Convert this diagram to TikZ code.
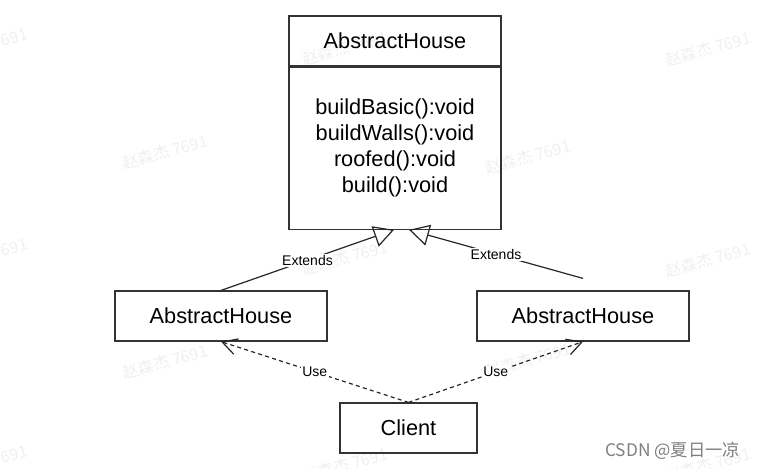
\documentclass[tikz,border=0pt]{standalone}
\usepackage{fontspec}
\setmainfont{Liberation Sans}
\newfontfamily\cjkfont{Noto Sans CJK SC}
\usetikzlibrary{arrows.meta,calc}

\begin{document}
\begin{tikzpicture}[x=0.75pt,y=-0.75pt,
  box/.style={draw=black!80,line width=0.9pt,rectangle,minimum width=159pt,minimum height=37.5pt,inner sep=0pt,font=\fontsize{16.3}{19.5}\selectfont},
  extends/.style={draw=black!85,line width=0.9pt,-{Triangle[open,length=15pt,width=16pt]}},
  use/.style={draw=black!85,line width=0.9pt,dash pattern=on 3pt off 2.5pt,-{Straight Barb[length=11pt,width=12pt]}},
  lbl/.style={fill=white,inner sep=1pt,font=\fontsize{10.5}{12}\selectfont},
  watermark/.style={rotate=15,text=black!6,font=\cjkfont\fontsize{12}{14}\selectfont}]
\clip (0,0) rectangle (759,468);
\fill[white] (0,0) rectangle (759,468);
\foreach \x/\y in {-15/45,-15/255,-15/462,165/152,165/362,345/48,345/258,345/465,528/157,528/360,708/49,708/260,708/465}
\node[watermark] at (\x,\y) {赵森杰 7691};
\node[box] (house) at (395,41) {AbstractHouse};
\node[box,anchor=north,minimum height=121.5pt,align=center] (houseBody) at (house.south) {buildBasic():void\\buildWalls():void\\roofed():void\\build():void};
\node[box] (leftHouse) at (221,316) {AbstractHouse};
\node[box] (rightHouse) at (583,316) {AbstractHouse};
\node[box,minimum width=102.75pt] (client) at (408.5,428) {Client};
\coordinate (extL) at ($(houseBody.south)+(-1,0)$);
\coordinate (extR) at ($(houseBody.south)+(14,0)$);
\coordinate (rightTail) at ($(rightHouse.north)+(0,-12)$);
\draw[extends] (leftHouse.north) -- node[lbl] {Extends} (extL);
\draw[extends] (rightTail) -- node[lbl] {Extends} (extR);
\draw[use] (client.north) -- node[lbl] {Use} (leftHouse.south);
\draw[use] (client.north) -- node[lbl] {Use} (rightHouse.south);
\node[anchor=east,text=black!50,font=\cjkfont\fontsize{13}{15}\selectfont] (csdn) at (745,451) {CSDN @夏日一凉};
\end{tikzpicture}
\end{document}
